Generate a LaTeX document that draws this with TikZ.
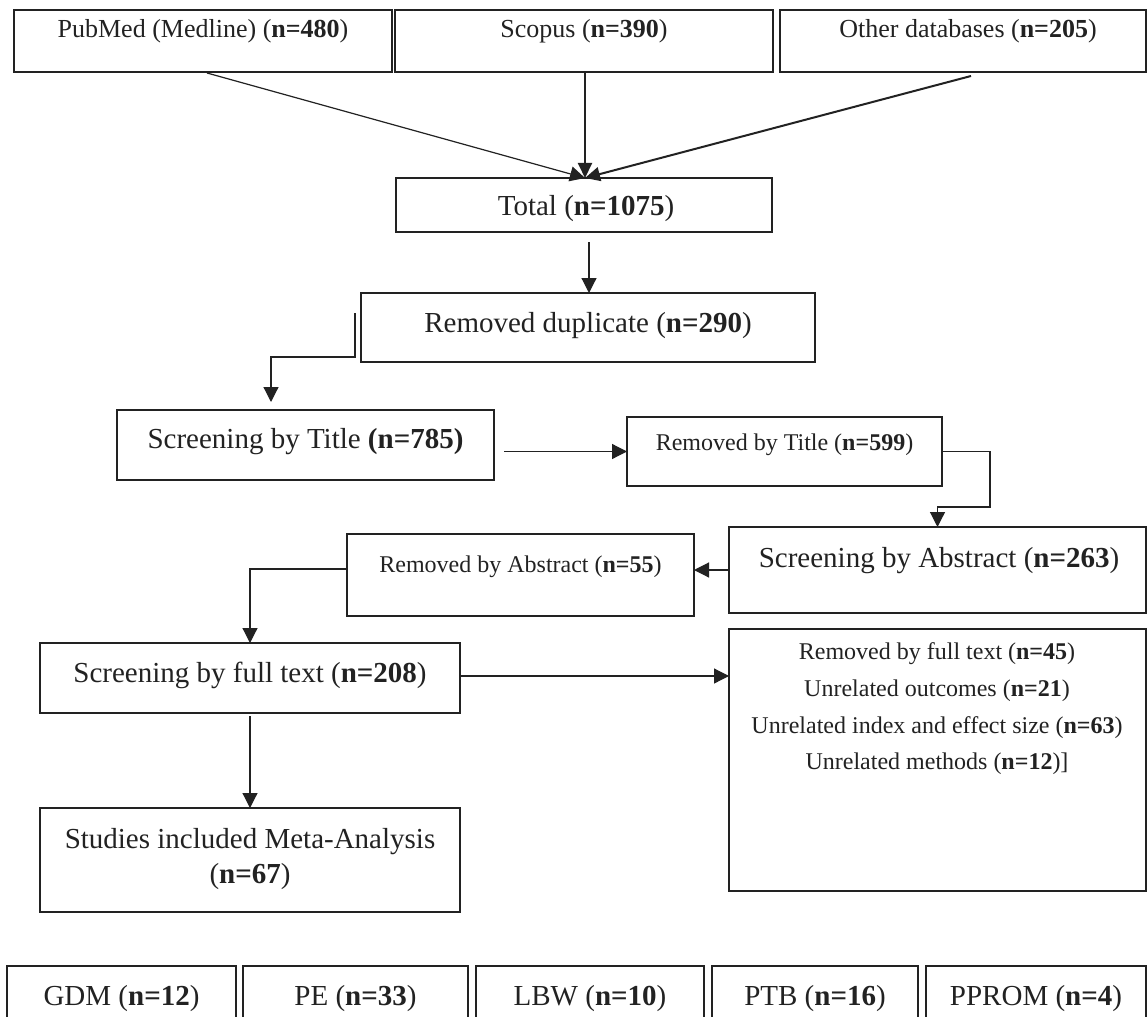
\documentclass[tikz,border=0pt]{standalone}
\usepackage{fontspec}
\setmainfont{Liberation Serif}
\usetikzlibrary{arrows.meta,calc}
\definecolor{ink}{HTML}{222222}
\begin{document}
\begin{tikzpicture}[x=1pt,y=-1pt,
  box/.style={draw=ink, line width=2pt, inner sep=0pt, outer sep=0pt, rectangle},
  bigtxt/.style={font=\fontsize{29}{35}\selectfont, inner sep=0pt, anchor=base, text=ink},
  midtxt/.style={font=\fontsize{26}{31}\selectfont, inner sep=0pt, anchor=base, text=ink},
  smalltxt/.style={font=\fontsize{24}{29}\selectfont, inner sep=0pt, anchor=base, text=ink},
  thinarrow/.style={draw=ink, line width=1.2pt, -{Triangle[length=15pt,width=15pt]}},
  thickarrow/.style={draw=ink, line width=2pt, -{Triangle[length=15pt,width=14pt]}},
]
\clip (0,0) rectangle (1147,1016);
\fill[white] (0,0) rectangle (1147,1016);

% boxes
\node[box, minimum width=378pt, minimum height=62pt] (pub) at (203,41) {};
\node[box, minimum width=378pt, minimum height=62pt] (scopus) at (584,41) {};
\node[box, minimum width=366pt, minimum height=62pt] (other) at (963,41) {};
\node[box, minimum width=376pt, minimum height=54pt] (total) at (584,205) {};
\node[box, minimum width=454pt, minimum height=69pt] (dup) at (588,327.5) {};
\node[box, minimum width=377pt, minimum height=70pt] (title) at (305.5,445) {};
\node[box, minimum width=315pt, minimum height=69pt] (rtitle) at (784.5,451.5) {};
\node[box, minimum width=417pt, minimum height=86pt] (sabs) at (937.5,570) {};
\node[box, minimum width=347pt, minimum height=82pt] (rabs) at (520.5,575) {};
\node[box, minimum width=420pt, minimum height=70pt] (sfull) at (250,678) {};
\node[box, minimum width=417pt, minimum height=262pt] (rfull) at (937.5,760) {};
\node[box, minimum width=420pt, minimum height=104pt] (studies) at (250,860) {};
\node[box, minimum width=229pt, minimum height=74pt] (gdm) at (121.5,1003) {};
\node[box, minimum width=225pt, minimum height=74pt] (pe) at (355.5,1003) {};
\node[box, minimum width=228pt, minimum height=74pt] (lbw) at (590,1003) {};
\node[box, minimum width=206pt, minimum height=74pt] (ptb) at (815,1003) {};
\node[box, minimum width=220pt, minimum height=74pt] (pprom) at (1036,1003) {};

% texts
\node[midtxt] (pubt) at (203,38) {PubMed (Medline) (\textbf{n=480})};
\node[midtxt] (scopust) at (584,38) {Scopus (\textbf{n=390})};
\node[midtxt] (othert) at (968,38) {Other databases (\textbf{n=205})};
\node[bigtxt] (totalt) at (586,216) {Total (\textbf{n=1075})};
\node[bigtxt] (dupt) at (588,332) {Removed duplicate (\textbf{n=290})};
\node[bigtxt] (titlet) at (305.5,448) {Screening by Title \textbf{(n=785)}};
\node[smalltxt] (rtitlet) at (784.5,450) {Removed by Title (\textbf{n=599})};
\node[bigtxt] (sabst) at (939,567) {Screening by Abstract (\textbf{n=263})};
\node[smalltxt] (rabst) at (520.5,572) {Removed by Abstract (\textbf{n=55})};
\node[bigtxt] (sfullt) at (250,682) {Screening by full text (\textbf{n=208})};
\node[smalltxt] (rfullt1) at (937,659) {Removed by full text (\textbf{n=45})};
\node[smalltxt] (rfullt2) at (937,696) {Unrelated outcomes (\textbf{n=21})};
\node[smalltxt] (rfullt3) at (937,733) {Unrelated index and effect size (\textbf{n=63})};
\node[smalltxt] (rfullt4) at (937,769) {Unrelated methods (\textbf{n=12})]};
\node[bigtxt] (studt1) at (250,848) {Studies included Meta-Analysis};
\node[bigtxt] (studt2) at (250,883) {(\textbf{n=67})};
\node[bigtxt] (gdmt) at (121.5,1005) {GDM (\textbf{n=12})};
\node[bigtxt] (pet) at (355.5,1005) {PE (\textbf{n=33})};
\node[bigtxt] (lbwt) at (590,1005) {LBW (\textbf{n=10})};
\node[bigtxt] (ptbt) at (815,1005) {PTB (\textbf{n=16})};
\node[bigtxt] (promt) at (1036,1005) {PPROM (\textbf{n=4})};

% connectors
\draw[thinarrow] ($(pub.south)+(4,1)$) -- ($(total.north)+(1,0)$);
\draw[thickarrow] ($(scopus.south)+(1,0)$) -- ($(total.north)+(1,0)$);
\draw[thickarrow] ($(other.south)+(8,4)$) -- ($(total.north)+(1,0)$);
\draw[thinarrow] ($(total.south)+(5,10)$) -- ($(dup.north)+(1,0)$);
\draw[thinarrow] ($(dup.north west)+(-6,20)$) -- ++(0,44) -| ($(title.north)+(-34.5,-8)$);
\draw[thinarrow] ($(title.east)+(10,6.5)$) -- (rtitle.west);
\draw[thinarrow] (rtitle.east) -- ++(48,0) -- ++(0,55.5) -| (sabs.north);
\draw[thinarrow] (sabs.west) -- (sabs.west -| rabs.east);
\draw[thinarrow] ($(rabs.west)+(0,-6)$) -| (sfull.north);
\draw[thinarrow] ($(sfull.east)+(0,-2)$) -- ($(rfull.west |- sfull.east)+(0,-2)$);
\draw[thinarrow] ($(sfull.south)+(0,3)$) -- (studies.north);
\end{tikzpicture}
\end{document}
